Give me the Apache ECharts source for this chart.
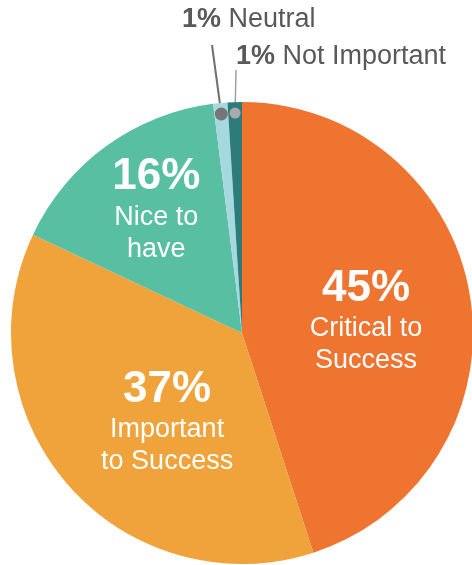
<!DOCTYPE html>
<html>
<head>
<meta charset="utf-8">
<script src="https://cdn.jsdelivr.net/npm/echarts@6/dist/echarts.min.js"></script>
<style>
  html, body { margin: 0; padding: 0; background: #fff; }
  #main { width: 472px; height: 565px; }
</style>
</head>
<body>
<div id="main"></div>
<script>
var categories = ['Critical to Success', 'Important to Success', 'Nice to have', 'Neutral', 'Not Important'];
var values = [45, 37, 16, 1, 1];
var labelTexts = ['Critical to\nSuccess', 'Important\nto Success', 'Nice to\nhave', 'Neutral', 'Not Important'];
var colors = ['#EE7430', '#F0A33B', '#58BFA2', '#A6D8DF', '#2E7C79'];

var cx = 242, cy = 333, R = 231;
var total = values.reduce(function (a, b) { return a + b; }, 0);

// point inside a slice, near the rim, at its middle angle
function dotPoint(i, inset) {
    var before = 0;
    for (var k = 0; k < i; k++) before += values[k];
    var a = (90 - 360 * (before + values[i] / 2) / total) * Math.PI / 180;
    return [cx + (R - inset) * Math.cos(a), cy - (R - inset) * Math.sin(a)];
}

var myChart = echarts.init(document.getElementById('main'));

var insideShift = [[7, 6], [14, 10], [-16, -28]];
var outsidePos = [
    { x: 182, y: 20, top: [212, 45], lineColor: '#6e6e6e', dotColor: '#767676', dotR: 6.5 },
    { x: 236, y: 57, top: [236, 70], lineColor: '#a0a0a0', dotColor: '#aaaaaa', dotR: 5.5 }
];

var data = categories.map(function (name, i) {
    var item = { name: name, value: values[i], itemStyle: { color: colors[i] } };
    if (i < 3) {
        item.label = {
            position: 'inside',
            formatter: '{p|' + values[i] + '%}\n{n|' + labelTexts[i].split('\n').join('}\n{n|') + '}'
        };
        item.labelLine = { show: false };
    } else {
        var o = outsidePos[i - 3];
        item.label = {
            position: 'outside',
            formatter: '{b1|' + values[i] + '%}{t| ' + labelTexts[i] + '}'
        };
        item.labelLine = { show: true, lineStyle: { color: o.lineColor, width: i === 3 ? 2 : 1.5 } };
    }
    return item;
});

var graphics = outsidePos.map(function (o, j) {
    var p = dotPoint(j + 3, 11);
    return {
        type: 'circle',
        shape: { cx: p[0], cy: p[1], r: o.dotR },
        style: { fill: o.dotColor },
        z: 100
    };
});

var option = {
    animation: false,
    graphic: graphics,
    series: [
        {
            type: 'pie',
            center: [cx, cy],
            radius: R,
            startAngle: 90,
            clockwise: true,
            avoidLabelOverlap: false,
            data: data,
            label: {
                color: '#fff',
                fontFamily: 'Liberation Sans',
                rich: {
                    p: { fontSize: 44, fontWeight: 'bold', color: '#fff', lineHeight: 48, fontFamily: 'Liberation Sans' },
                    n: { fontSize: 27, color: '#fff', lineHeight: 32, fontFamily: 'Liberation Sans' },
                    b1: { fontSize: 27, fontWeight: 'bold', color: '#595959', fontFamily: 'Liberation Sans' },
                    t: { fontSize: 27, color: '#595959', fontFamily: 'Liberation Sans' }
                }
            },
            labelLayout: function (params) {
                var i = params.dataIndex;
                if (i < 3) {
                    return { dx: insideShift[i][0], dy: insideShift[i][1] };
                }
                var o = outsidePos[i - 3];
                var p = dotPoint(i, 11);
                return {
                    x: o.x,
                    y: o.y,
                    align: 'left',
                    verticalAlign: 'middle',
                    labelLinePoints: [p, o.top, o.top]
                };
            },
            emphasis: { disabled: true }
        }
    ]
};
myChart.setOption(option);
</script>
</body>
</html>
